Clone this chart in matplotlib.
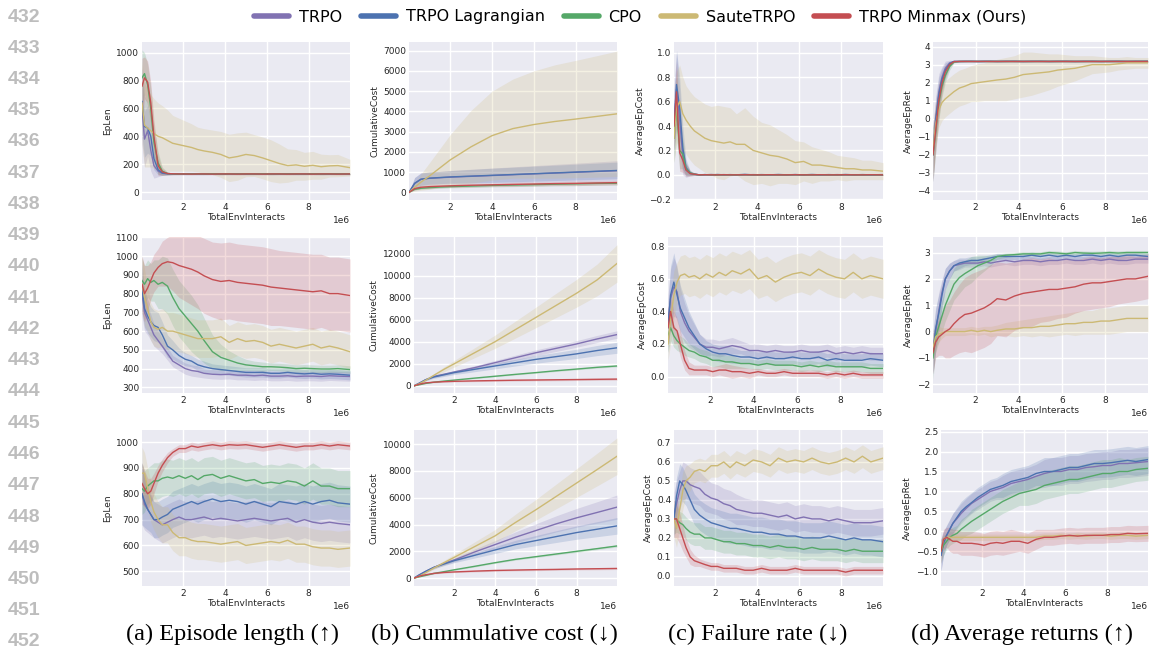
import matplotlib.pyplot as plt
from matplotlib.lines import Line2D
import numpy as np

names = ['TRPO', 'TRPO Lagrangian', 'CPO', 'SauteTRPO', 'TRPO Minmax (Ours)']
colors = ['#8172B2', '#4C72B0', '#55A868', '#CCB974', '#C44E52']

# x grids, in units of 1e6 env interactions
steps = [0.03, 0.15, 0.3, 0.45, 0.6, 0.8, 1.0, 1.25, 1.5, 1.8,
         2.1, 2.4, 2.7, 3.0, 3.4, 3.8, 4.2, 4.6, 5.0, 5.4,
         5.8, 6.2, 6.6, 7.0, 7.4, 7.8, 8.2, 8.6, 9.0, 9.4, 9.98]
steps_cum = [0.03, 0.3, 0.6, 1.0, 1.5, 2.0, 3.0, 4.0, 5.0, 6.0, 7.0, 8.0, 9.0, 9.98]

# ---------------- row 1 ----------------
ep1_trpo = [600, 380, 440, 300, 190, 150, 135, 131, 130, 130,
            129, 130, 129, 130, 130, 129, 130, 130, 129, 130,
            130, 129, 130, 130, 129, 130, 130, 129, 130, 130, 129]
ep1_trpo_sd = [250, 200, 180, 150, 90, 40, 15, 8, 6, 5,
               5, 5, 5, 5, 5, 5, 5, 5, 5, 5,
               5, 5, 5, 5, 5, 5, 5, 5, 5, 5, 5]
ep1_lag = [650, 470, 460, 400, 240, 160, 137, 132, 131, 130,
           130, 131, 130, 130, 131, 130, 130, 131, 130, 130,
           131, 130, 130, 131, 130, 130, 131, 130, 130, 131, 130]
ep1_lag_sd = [250, 220, 180, 140, 80, 35, 15, 8, 6, 5,
              5, 5, 5, 5, 5, 5, 5, 5, 5, 5,
              5, 5, 5, 5, 5, 5, 5, 5, 5, 5, 5]
ep1_cpo = [820, 850, 770, 600, 360, 210, 150, 133, 131, 130,
           131, 130, 131, 130, 131, 130, 131, 130, 131, 130,
           131, 130, 131, 130, 131, 130, 131, 130, 131, 130, 131]
ep1_cpo_sd = [200, 150, 150, 150, 120, 80, 30, 10, 6, 5,
              5, 5, 5, 5, 5, 5, 5, 5, 5, 5,
              5, 5, 5, 5, 5, 5, 5, 5, 5, 5, 5]
ep1_saute = [640, 480, 460, 440, 420, 400, 390, 370, 350, 340,
             330, 320, 305, 295, 285, 270, 245, 255, 270, 262,
             245, 225, 205, 190, 195, 185, 192, 182, 188, 190, 175]
ep1_saute_sd = [300, 300, 280, 260, 250, 240, 230, 220, 200, 190,
                180, 170, 160, 160, 160, 165, 170, 170, 160, 150,
                150, 150, 140, 120, 110, 100, 100, 90, 80, 80, 60]
ep1_min = [760, 820, 790, 640, 400, 190, 145, 133, 131, 130,
           130, 129, 130, 130, 129, 130, 130, 129, 130, 130,
           129, 130, 130, 129, 130, 130, 129, 130, 130, 129, 130]
ep1_min_sd = [200, 150, 150, 150, 120, 70, 25, 10, 6, 5,
              5, 5, 5, 5, 5, 5, 5, 5, 5, 5,
              5, 5, 5, 5, 5, 5, 5, 5, 5, 5, 5]

cc1_trpo = [0, 430, 640, 690, 720, 750, 790, 830, 870, 910, 950, 990, 1030, 1070]
cc1_trpo_sd = [0, 300, 320, 320, 320, 330, 350, 370, 390, 410, 430, 450, 470, 490]
cc1_lag = [0, 450, 650, 700, 730, 760, 800, 840, 880, 920, 960, 1000, 1040, 1080]
cc1_lag_sd = [0, 280, 300, 300, 300, 310, 330, 350, 360, 370, 380, 390, 400, 410]
cc1_cpo = [0, 150, 200, 230, 260, 280, 310, 340, 360, 380, 400, 420, 440, 450]
cc1_cpo_sd = [0, 40, 50, 60, 60, 60, 70, 70, 80, 80, 80, 90, 90, 90]
cc1_saute = [0, 250, 500, 800, 1200, 1600, 2250, 2800, 3150, 3350, 3500, 3620, 3750, 3880]
cc1_saute_sd = [0, 200, 400, 650, 950, 1250, 1800, 2200, 2450, 2650, 2800, 2900, 3000, 3100]
cc1_min = [0, 180, 250, 280, 300, 320, 350, 370, 390, 410, 430, 440, 460, 480]
cc1_min_sd = [0, 60, 70, 80, 80, 80, 90, 90, 100, 100, 100, 110, 110, 110]

ac1_trpo = [0.45, 0.70, 0.45, 0.15, 0.04, 0.01, 0.005, 0.0, 0.0, 0.003,
            0.0, 0.002, 0.0, 0.001, 0.0, 0.002, 0.0, 0.001, 0.0, 0.0,
            0.002, 0.0, 0.001, 0.0, 0.0, 0.002, 0.0, 0.001, 0.0, 0.0, 0.0]
ac1_trpo_sd = [0.25, 0.30, 0.25, 0.15, 0.06, 0.02, 0.01, 0.005, 0.005, 0.005,
               0.005, 0.005, 0.005, 0.005, 0.005, 0.005, 0.005, 0.005, 0.005, 0.005,
               0.005, 0.005, 0.005, 0.005, 0.005, 0.005, 0.005, 0.005, 0.005, 0.005, 0.005]
ac1_lag = [0.40, 0.74, 0.55, 0.22, 0.06, 0.015, 0.005, 0.0, 0.002, 0.0,
           0.003, 0.0, 0.002, 0.0, 0.004, 0.0, 0.002, 0.0, 0.003, 0.0,
           0.002, 0.0, 0.003, 0.0, 0.002, 0.0, 0.003, 0.0, 0.002, 0.0, 0.002]
ac1_lag_sd = [0.25, 0.28, 0.25, 0.18, 0.07, 0.02, 0.01, 0.005, 0.005, 0.005,
              0.005, 0.005, 0.005, 0.005, 0.005, 0.005, 0.005, 0.005, 0.005, 0.005,
              0.005, 0.005, 0.005, 0.005, 0.005, 0.005, 0.005, 0.005, 0.005, 0.005, 0.005]
ac1_cpo = [0.30, 0.55, 0.20, 0.17, 0.05, 0.015, 0.005, 0.0, 0.002, 0.0,
           0.0, 0.001, 0.0, 0.0, 0.001, 0.0, 0.0, 0.001, 0.0, 0.0,
           0.001, 0.0, 0.0, 0.001, 0.0, 0.0, 0.001, 0.0, 0.0, 0.001, 0.0]
ac1_cpo_sd = [0.20, 0.25, 0.15, 0.12, 0.05, 0.02, 0.01, 0.005, 0.005, 0.005,
              0.005, 0.005, 0.005, 0.005, 0.005, 0.005, 0.005, 0.005, 0.005, 0.005,
              0.005, 0.005, 0.005, 0.005, 0.005, 0.005, 0.005, 0.005, 0.005, 0.005, 0.005]
ac1_saute = [0.30, 0.55, 0.60, 0.50, 0.45, 0.40, 0.36, 0.33, 0.30, 0.28,
             0.27, 0.26, 0.27, 0.25, 0.25, 0.20, 0.18, 0.16, 0.15, 0.13,
             0.10, 0.11, 0.08, 0.08, 0.07, 0.06, 0.05, 0.05, 0.04, 0.04, 0.03]
ac1_saute_sd = [0.20, 0.30, 0.30, 0.30, 0.28, 0.28, 0.28, 0.28, 0.28, 0.28,
                0.30, 0.30, 0.28, 0.25, 0.30, 0.28, 0.25, 0.25, 0.22, 0.20,
                0.18, 0.16, 0.15, 0.13, 0.12, 0.10, 0.10, 0.09, 0.08, 0.08, 0.07]
ac1_min = [0.40, 0.68, 0.18, 0.12, 0.04, 0.01, 0.005, 0.0, 0.001, 0.0,
           0.0, 0.001, 0.0, 0.0, 0.001, 0.0, 0.0, 0.001, 0.0, 0.0,
           0.001, 0.0, 0.0, 0.001, 0.0, 0.0, 0.001, 0.0, 0.0, 0.001, 0.0]
ac1_min_sd = [0.20, 0.25, 0.15, 0.10, 0.05, 0.02, 0.01, 0.005, 0.005, 0.005,
              0.005, 0.005, 0.005, 0.005, 0.005, 0.005, 0.005, 0.005, 0.005, 0.005,
              0.005, 0.005, 0.005, 0.005, 0.005, 0.005, 0.005, 0.005, 0.005, 0.005, 0.005]

rt1_trpo = [-2.0, 0.0, 1.5, 2.3, 2.8, 3.1, 3.18, 3.18, 3.19, 3.18,
            3.18, 3.19, 3.18, 3.18, 3.19, 3.18, 3.18, 3.19, 3.18, 3.18,
            3.19, 3.18, 3.18, 3.19, 3.18, 3.18, 3.19, 3.18, 3.18, 3.19, 3.18]
rt1_trpo_sd = [1.5, 1.2, 1.0, 0.6, 0.4, 0.15, 0.05, 0.03, 0.03, 0.03,
               0.03, 0.03, 0.03, 0.03, 0.03, 0.03, 0.03, 0.03, 0.03, 0.03,
               0.03, 0.03, 0.03, 0.03, 0.03, 0.03, 0.03, 0.03, 0.03, 0.03, 0.03]
rt1_lag = [-2.0, -0.2, 1.3, 2.2, 2.7, 3.05, 3.18, 3.18, 3.18, 3.19,
           3.18, 3.18, 3.19, 3.18, 3.18, 3.19, 3.18, 3.18, 3.19, 3.18,
           3.18, 3.19, 3.18, 3.18, 3.19, 3.18, 3.18, 3.19, 3.18, 3.18, 3.19]
rt1_lag_sd = [1.5, 1.2, 1.0, 0.6, 0.4, 0.15, 0.05, 0.03, 0.03, 0.03,
              0.03, 0.03, 0.03, 0.03, 0.03, 0.03, 0.03, 0.03, 0.03, 0.03,
              0.03, 0.03, 0.03, 0.03, 0.03, 0.03, 0.03, 0.03, 0.03, 0.03, 0.03]
rt1_cpo = [-2.0, -0.8, 0.9, 1.8, 2.4, 2.9, 3.15, 3.18, 3.18, 3.18,
           3.18, 3.18, 3.18, 3.18, 3.18, 3.18, 3.18, 3.18, 3.18, 3.18,
           3.18, 3.18, 3.18, 3.18, 3.18, 3.18, 3.18, 3.18, 3.18, 3.18, 3.18]
rt1_cpo_sd = [1.5, 1.2, 1.0, 0.6, 0.4, 0.2, 0.05, 0.03, 0.03, 0.03,
              0.03, 0.03, 0.03, 0.03, 0.03, 0.03, 0.03, 0.03, 0.03, 0.03,
              0.03, 0.03, 0.03, 0.03, 0.03, 0.03, 0.03, 0.03, 0.03, 0.03, 0.03]
rt1_saute = [-1.8, -0.3, 0.5, 0.9, 1.1, 1.3, 1.5, 1.7, 1.8, 1.95,
             2.0, 2.05, 2.1, 2.15, 2.2, 2.3, 2.45, 2.5, 2.55, 2.6,
             2.7, 2.75, 2.8, 2.9, 3.0, 3.0, 3.0, 3.05, 3.1, 3.1, 3.1]
rt1_saute_sd = [1.5, 1.2, 1.0, 1.0, 1.0, 1.0, 1.0, 1.0, 1.0, 1.0,
                1.05, 1.05, 1.1, 1.15, 1.2, 1.2, 1.25, 1.2, 1.1, 1.0,
                0.9, 0.8, 0.7, 0.6, 0.5, 0.45, 0.4, 0.35, 0.35, 0.3, 0.3]
rt1_min = [-2.0, -0.7, 1.0, 2.0, 2.6, 3.0, 3.17, 3.18, 3.18, 3.18,
           3.18, 3.18, 3.18, 3.18, 3.18, 3.18, 3.18, 3.18, 3.18, 3.18,
           3.18, 3.18, 3.18, 3.18, 3.18, 3.18, 3.18, 3.18, 3.18, 3.18, 3.18]
rt1_min_sd = [1.5, 1.2, 1.0, 0.6, 0.4, 0.15, 0.05, 0.03, 0.03, 0.03,
              0.03, 0.03, 0.03, 0.03, 0.03, 0.03, 0.03, 0.03, 0.03, 0.03,
              0.03, 0.03, 0.03, 0.03, 0.03, 0.03, 0.03, 0.03, 0.03, 0.03, 0.03]

# ---------------- row 2 ----------------
ep2_trpo = [800, 700, 660, 620, 580, 550, 520, 480, 440, 420,
            400, 390, 385, 375, 370, 368, 370, 365, 365, 362,
            365, 360, 360, 362, 358, 360, 360, 358, 362, 360, 358]
ep2_trpo_sd = [120, 100, 80, 70, 60, 50, 40, 35, 30, 30,
               30, 30, 30, 25, 25, 25, 25, 25, 25, 25,
               25, 25, 25, 25, 25, 25, 25, 25, 25, 25, 25]
ep2_lag = [830, 720, 680, 650, 630, 620, 580, 520, 500, 470,
           450, 440, 420, 410, 400, 395, 390, 385, 380, 380,
           380, 375, 375, 380, 375, 372, 375, 370, 372, 370, 365]
ep2_lag_sd = [130, 100, 90, 80, 80, 80, 70, 60, 50, 40,
              35, 30, 30, 30, 25, 25, 25, 25, 25, 25,
              25, 25, 25, 25, 25, 25, 25, 25, 25, 25, 25]
ep2_cpo = [870, 850, 880, 860, 870, 850, 860, 840, 780, 720,
           680, 640, 600, 550, 490, 460, 445, 430, 420, 415,
           410, 410, 408, 405, 400, 402, 400, 398, 398, 400, 395]
ep2_cpo_sd = [120, 100, 100, 100, 110, 130, 140, 150, 150, 150,
              150, 150, 140, 120, 90, 70, 50, 40, 30, 25,
              25, 20, 20, 20, 20, 20, 20, 20, 20, 20, 20]
ep2_saute = [850, 780, 720, 650, 620, 610, 620, 600, 600, 590,
             580, 570, 560, 560, 560, 570, 540, 560, 545, 550,
             540, 520, 530, 520, 510, 520, 530, 510, 520, 510, 490]
ep2_saute_sd = [150, 150, 120, 100, 100, 100, 100, 100, 100, 100,
                100, 100, 100, 100, 100, 100, 90, 90, 90, 90,
                90, 90, 90, 90, 90, 90, 90, 90, 90, 90, 90]
ep2_min = [850, 800, 830, 870, 910, 940, 960, 970, 965, 950,
           940, 930, 915, 895, 875, 865, 870, 860, 855, 850,
           845, 835, 830, 825, 820, 815, 810, 815, 800, 800, 790]
ep2_min_sd = [150, 150, 120, 100, 100, 100, 120, 130, 150, 170,
              180, 190, 195, 200, 200, 205, 205, 205, 205, 205,
              205, 205, 200, 200, 200, 200, 200, 195, 195, 195, 195]

cc2_trpo = [0, 250, 550, 850, 1050, 1250, 1650, 2100, 2550, 3000, 3400, 3800, 4250, 4650]
cc2_trpo_sd = [0, 40, 70, 100, 120, 140, 170, 200, 230, 260, 280, 300, 320, 340]
cc2_lag = [0, 250, 550, 800, 1000, 1200, 1500, 1800, 2100, 2400, 2650, 2900, 3200, 3450]
cc2_lag_sd = [0, 50, 90, 120, 150, 180, 220, 260, 300, 350, 380, 420, 460, 500]
cc2_cpo = [0, 100, 220, 330, 430, 520, 700, 870, 1040, 1200, 1370, 1520, 1680, 1800]
cc2_cpo_sd = [0, 10, 20, 30, 35, 40, 45, 50, 55, 60, 65, 70, 75, 80]
cc2_saute = [0, 200, 500, 950, 1500, 2000, 3000, 4000, 5100, 6200, 7300, 8400, 9600, 11100]
cc2_saute_sd = [0, 30, 75, 140, 220, 300, 450, 600, 770, 930, 1100, 1260, 1440, 1700]
cc2_min = [0, 150, 270, 330, 380, 410, 450, 480, 510, 530, 550, 570, 590, 610]
cc2_min_sd = [0, 20, 40, 50, 60, 60, 70, 70, 80, 80, 90, 90, 100, 100]

ac2_trpo = [0.35, 0.48, 0.55, 0.52, 0.40, 0.33, 0.28, 0.24, 0.20, 0.18,
            0.18, 0.17, 0.18, 0.19, 0.18, 0.16, 0.16, 0.15, 0.16, 0.15,
            0.15, 0.16, 0.15, 0.15, 0.16, 0.14, 0.15, 0.14, 0.15, 0.14, 0.14]
ac2_trpo_sd = [0.15, 0.18, 0.18, 0.16, 0.14, 0.12, 0.10, 0.08, 0.06, 0.05,
               0.05, 0.05, 0.05, 0.05, 0.04, 0.04, 0.04, 0.04, 0.04, 0.04,
               0.04, 0.04, 0.04, 0.04, 0.04, 0.04, 0.04, 0.04, 0.04, 0.04, 0.04]
ac2_lag = [0.30, 0.50, 0.58, 0.50, 0.42, 0.36, 0.30, 0.25, 0.20, 0.17,
           0.15, 0.14, 0.14, 0.13, 0.12, 0.12, 0.11, 0.12, 0.11, 0.11,
           0.12, 0.11, 0.11, 0.12, 0.10, 0.11, 0.10, 0.10, 0.10, 0.11, 0.10]
ac2_lag_sd = [0.15, 0.18, 0.18, 0.16, 0.14, 0.12, 0.10, 0.08, 0.06, 0.05,
              0.05, 0.05, 0.05, 0.05, 0.04, 0.04, 0.04, 0.04, 0.04, 0.04,
              0.04, 0.04, 0.04, 0.04, 0.04, 0.04, 0.04, 0.04, 0.04, 0.04, 0.04]
ac2_cpo = [0.25, 0.30, 0.25, 0.22, 0.20, 0.18, 0.16, 0.15, 0.13, 0.12,
           0.10, 0.10, 0.09, 0.09, 0.08, 0.08, 0.07, 0.08, 0.07, 0.07,
           0.07, 0.06, 0.07, 0.06, 0.07, 0.06, 0.06, 0.06, 0.06, 0.05, 0.05]
ac2_cpo_sd = [0.10, 0.08, 0.07, 0.06, 0.05, 0.05, 0.04, 0.04, 0.04, 0.04,
              0.04, 0.04, 0.04, 0.04, 0.03, 0.03, 0.03, 0.03, 0.03, 0.03,
              0.03, 0.03, 0.03, 0.03, 0.03, 0.03, 0.03, 0.03, 0.03, 0.03, 0.03]
ac2_saute = [0.20, 0.35, 0.50, 0.58, 0.62, 0.63, 0.61, 0.62, 0.60, 0.63,
             0.61, 0.64, 0.62, 0.65, 0.63, 0.66, 0.60, 0.62, 0.58, 0.61,
             0.63, 0.64, 0.62, 0.66, 0.63, 0.61, 0.60, 0.64, 0.60, 0.62, 0.60]
ac2_saute_sd = [0.10, 0.15, 0.15, 0.12, 0.12, 0.12, 0.12, 0.12, 0.12, 0.12,
                0.12, 0.12, 0.12, 0.12, 0.12, 0.12, 0.12, 0.12, 0.12, 0.12,
                0.12, 0.12, 0.12, 0.12, 0.12, 0.12, 0.12, 0.12, 0.12, 0.12, 0.12]
ac2_min = [0.30, 0.40, 0.30, 0.28, 0.20, 0.10, 0.05, 0.04, 0.04, 0.04,
           0.03, 0.04, 0.04, 0.03, 0.03, 0.02, 0.03, 0.02, 0.02, 0.03,
           0.02, 0.02, 0.02, 0.02, 0.01, 0.02, 0.01, 0.02, 0.01, 0.01, 0.01]
ac2_min_sd = [0.12, 0.10, 0.10, 0.08, 0.08, 0.06, 0.04, 0.03, 0.03, 0.03,
              0.03, 0.03, 0.04, 0.04, 0.03, 0.03, 0.02, 0.02, 0.02, 0.02,
              0.02, 0.02, 0.02, 0.02, 0.02, 0.02, 0.02, 0.02, 0.02, 0.02, 0.02]

rt2_trpo = [-0.8, 0.0, 0.8, 1.5, 2.0, 2.3, 2.5, 2.55, 2.6, 2.6,
            2.6, 2.65, 2.6, 2.65, 2.7, 2.65, 2.7, 2.7, 2.65, 2.7,
            2.7, 2.75, 2.7, 2.7, 2.75, 2.7, 2.75, 2.7, 2.7, 2.75, 2.75]
rt2_trpo_sd = [0.8, 0.8, 0.7, 0.5, 0.4, 0.3, 0.2, 0.2, 0.15, 0.15,
               0.15, 0.15, 0.15, 0.15, 0.15, 0.15, 0.15, 0.15, 0.15, 0.15,
               0.15, 0.15, 0.15, 0.15, 0.15, 0.15, 0.15, 0.15, 0.15, 0.15, 0.15]
rt2_lag = [-0.8, 0.1, 0.7, 1.4, 2.0, 2.3, 2.5, 2.6, 2.65, 2.7,
           2.7, 2.75, 2.8, 2.85, 2.85, 2.85, 2.85, 2.9, 2.85, 2.9,
           2.85, 2.9, 2.85, 2.9, 2.9, 2.85, 2.9, 2.85, 2.9, 2.9, 2.85]
rt2_lag_sd = [0.8, 0.8, 0.7, 0.5, 0.4, 0.3, 0.2, 0.2, 0.15, 0.15,
              0.15, 0.12, 0.12, 0.12, 0.12, 0.12, 0.12, 0.12, 0.12, 0.12,
              0.12, 0.12, 0.12, 0.12, 0.12, 0.12, 0.12, 0.12, 0.12, 0.12, 0.12]
rt2_cpo = [-1.0, -0.2, 0.2, 0.6, 1.0, 1.4, 1.8, 2.05, 2.2, 2.35,
           2.5, 2.6, 2.7, 2.85, 2.9, 2.92, 2.95, 2.95, 2.95, 3.0,
           2.98, 2.95, 3.0, 2.98, 2.97, 2.98, 3.0, 2.98, 3.0, 3.0, 3.0]
rt2_cpo_sd = [0.8, 0.6, 0.6, 0.6, 0.6, 0.6, 0.6, 0.6, 0.5, 0.5,
              0.4, 0.3, 0.2, 0.1, 0.08, 0.08, 0.08, 0.08, 0.08, 0.08,
              0.08, 0.08, 0.08, 0.08, 0.08, 0.08, 0.08, 0.08, 0.08, 0.08, 0.08]
rt2_saute = [-0.6, -0.2, -0.1, -0.05, 0.0, 0.0, 0.0, 0.0, 0.0, 0.05,
             0.0, 0.05, 0.0, 0.05, 0.1, 0.1, 0.15, 0.15, 0.2, 0.2,
             0.25, 0.3, 0.3, 0.35, 0.35, 0.4, 0.4, 0.45, 0.5, 0.5, 0.5]
rt2_saute_sd = [0.5, 0.4, 0.3, 0.2, 0.15, 0.15, 0.15, 0.15, 0.15, 0.15,
                0.15, 0.15, 0.2, 0.2, 0.25, 0.3, 0.3, 0.35, 0.35, 0.4,
                0.4, 0.4, 0.45, 0.45, 0.45, 0.5, 0.5, 0.5, 0.5, 0.5, 0.5]
rt2_min = [-0.8, -0.4, -0.2, -0.1, 0.0, 0.1, 0.3, 0.5, 0.65, 0.7,
           0.8, 0.9, 1.05, 1.25, 1.2, 1.35, 1.45, 1.5, 1.55, 1.6,
           1.6, 1.65, 1.7, 1.8, 1.85, 1.85, 1.9, 1.95, 2.0, 2.0, 2.1]
rt2_min_sd = [0.8, 0.6, 0.7, 0.8, 1.0, 1.1, 1.2, 1.3, 1.4, 1.5,
              1.5, 1.5, 1.5, 1.4, 1.4, 1.3, 1.3, 1.3, 1.2, 1.2,
              1.1, 1.1, 1.0, 1.0, 1.0, 0.95, 0.95, 0.9, 0.9, 0.85, 0.85]

# ---------------- row 3 ----------------
ep3_trpo = [800, 760, 740, 720, 700, 690, 680, 690, 700, 710,
            700, 700, 705, 710, 700, 705, 700, 695, 700, 705,
            700, 695, 700, 705, 690, 700, 690, 685, 690, 685, 680]
ep3_trpo_sd = [120, 100, 90, 80, 70, 70, 70, 70, 70, 70,
               70, 70, 70, 70, 70, 70, 70, 70, 70, 70,
               70, 70, 70, 70, 70, 70, 70, 70, 70, 70, 70]
ep3_lag = [800, 770, 740, 720, 700, 700, 710, 720, 740, 750,
           760, 770, 760, 770, 780, 770, 775, 770, 760, 770,
           760, 750, 770, 765, 760, 770, 760, 770, 775, 765, 760]
ep3_lag_sd = [120, 100, 80, 70, 70, 70, 70, 70, 70, 70,
              70, 70, 70, 70, 70, 70, 70, 70, 70, 70,
              70, 70, 70, 70, 70, 70, 70, 70, 70, 70, 70]
ep3_cpo = [820, 810, 830, 840, 850, 850, 860, 865, 860, 870,
           860, 870, 855, 870, 875, 860, 870, 860, 850, 855,
           840, 845, 840, 850, 845, 830, 850, 830, 830, 820, 820]
ep3_cpo_sd = [100, 80, 70, 70, 70, 70, 70, 70, 70, 70,
              70, 70, 70, 70, 70, 70, 70, 70, 70, 70,
              70, 70, 70, 70, 70, 70, 70, 70, 70, 70, 70]
ep3_saute = [880, 880, 820, 770, 730, 700, 680, 680, 650, 630,
             630, 620, 615, 615, 610, 605, 610, 615, 600, 605,
             610, 615, 610, 620, 605, 605, 595, 590, 590, 585, 590]
ep3_saute_sd = [100, 80, 80, 80, 70, 70, 70, 70, 70, 70,
                70, 70, 70, 70, 70, 70, 70, 70, 70, 70,
                70, 70, 70, 70, 70, 70, 70, 70, 70, 70, 70]
ep3_min = [840, 820, 800, 810, 840, 880, 910, 940, 960, 975,
           975, 985, 980, 985, 990, 985, 990, 988, 990, 985,
           980, 985, 990, 985, 980, 985, 985, 990, 985, 990, 985]
ep3_min_sd = [80, 70, 60, 50, 40, 30, 25, 20, 15, 15,
              15, 15, 15, 15, 15, 15, 15, 15, 15, 15,
              15, 15, 15, 15, 15, 15, 15, 15, 15, 15, 15]

cc3_trpo = [0, 250, 500, 800, 1100, 1350, 1950, 2500, 3050, 3550, 4050, 4500, 4900, 5300]
cc3_trpo_sd = [0, 30, 60, 90, 120, 150, 220, 300, 400, 500, 600, 700, 800, 900]
cc3_lag = [0, 250, 500, 800, 1050, 1300, 1700, 2100, 2500, 2800, 3100, 3400, 3650, 3900]
cc3_lag_sd = [0, 30, 60, 90, 120, 150, 200, 260, 320, 380, 440, 500, 560, 620]
cc3_cpo = [0, 100, 200, 350, 480, 620, 880, 1150, 1400, 1600, 1800, 2000, 2200, 2400]
cc3_cpo_sd = [0, 10, 20, 30, 35, 40, 50, 55, 60, 65, 70, 75, 80, 80]
cc3_saute = [0, 150, 400, 750, 1150, 1550, 2350, 3150, 4150, 5100, 6100, 7100, 8100, 9100]
cc3_saute_sd = [0, 20, 60, 110, 170, 230, 350, 470, 620, 770, 920, 1070, 1220, 1370]
cc3_min = [0, 150, 250, 350, 420, 460, 520, 570, 600, 630, 650, 680, 700, 720]
cc3_min_sd = [0, 20, 30, 40, 50, 50, 60, 60, 60, 70, 70, 70, 80, 80]

ac3_trpo = [0.32, 0.38, 0.45, 0.50, 0.50, 0.48, 0.47, 0.46, 0.43, 0.41,
            0.40, 0.38, 0.37, 0.35, 0.34, 0.33, 0.33, 0.32, 0.31, 0.32,
            0.30, 0.31, 0.30, 0.30, 0.29, 0.30, 0.29, 0.28, 0.28, 0.28, 0.29]
ac3_trpo_sd = [0.12, 0.12, 0.10, 0.10, 0.09, 0.09, 0.09, 0.09, 0.09, 0.08,
               0.08, 0.08, 0.08, 0.08, 0.07, 0.07, 0.07, 0.07, 0.07, 0.07,
               0.07, 0.07, 0.07, 0.07, 0.07, 0.07, 0.07, 0.07, 0.07, 0.07, 0.07]
ac3_lag = [0.30, 0.42, 0.50, 0.48, 0.45, 0.40, 0.35, 0.32, 0.30, 0.28,
           0.27, 0.26, 0.25, 0.25, 0.24, 0.23, 0.23, 0.22, 0.22, 0.21,
           0.21, 0.20, 0.20, 0.20, 0.21, 0.20, 0.19, 0.20, 0.19, 0.19, 0.18]
ac3_lag_sd = [0.10, 0.10, 0.09, 0.09, 0.08, 0.08, 0.08, 0.08, 0.08, 0.08,
              0.08, 0.08, 0.08, 0.08, 0.08, 0.08, 0.08, 0.08, 0.08, 0.08,
              0.08, 0.08, 0.08, 0.08, 0.08, 0.08, 0.08, 0.08, 0.08, 0.08, 0.08]
ac3_cpo = [0.30, 0.30, 0.28, 0.27, 0.25, 0.23, 0.22, 0.22, 0.20, 0.20,
           0.19, 0.18, 0.18, 0.17, 0.17, 0.16, 0.16, 0.15, 0.16, 0.15,
           0.15, 0.14, 0.15, 0.14, 0.14, 0.14, 0.13, 0.14, 0.13, 0.13, 0.13]
ac3_cpo_sd = [0.08, 0.07, 0.06, 0.06, 0.06, 0.06, 0.06, 0.06, 0.06, 0.06,
              0.06, 0.06, 0.06, 0.06, 0.06, 0.06, 0.06, 0.06, 0.06, 0.06,
              0.06, 0.06, 0.06, 0.06, 0.06, 0.06, 0.06, 0.06, 0.06, 0.06, 0.06]
ac3_saute = [0.30, 0.25, 0.35, 0.45, 0.50, 0.52, 0.55, 0.56, 0.55, 0.58,
             0.58, 0.60, 0.57, 0.60, 0.58, 0.61, 0.60, 0.58, 0.62, 0.60,
             0.61, 0.60, 0.62, 0.60, 0.59, 0.60, 0.62, 0.60, 0.63, 0.60, 0.62]
ac3_saute_sd = [0.10, 0.10, 0.10, 0.10, 0.08, 0.07, 0.06, 0.06, 0.06, 0.06,
                0.06, 0.06, 0.06, 0.06, 0.06, 0.06, 0.06, 0.06, 0.06, 0.06,
                0.06, 0.06, 0.06, 0.06, 0.06, 0.06, 0.06, 0.06, 0.06, 0.06, 0.06]
ac3_min = [0.30, 0.30, 0.25, 0.20, 0.15, 0.10, 0.08, 0.07, 0.06, 0.05,
           0.05, 0.04, 0.04, 0.04, 0.03, 0.03, 0.04, 0.03, 0.03, 0.03,
           0.04, 0.03, 0.03, 0.03, 0.03, 0.03, 0.02, 0.03, 0.03, 0.03, 0.03]
ac3_min_sd = [0.10, 0.10, 0.08, 0.07, 0.05, 0.04, 0.03, 0.02, 0.02, 0.02,
              0.02, 0.02, 0.02, 0.02, 0.02, 0.02, 0.02, 0.02, 0.02, 0.02,
              0.02, 0.02, 0.02, 0.02, 0.02, 0.02, 0.02, 0.02, 0.02, 0.02, 0.02]

rt3_trpo = [-0.6, -0.3, -0.1, 0.05, 0.2, 0.32, 0.45, 0.58, 0.70, 0.80,
            0.90, 1.0, 1.05, 1.1, 1.2, 1.25, 1.3, 1.38, 1.45, 1.5,
            1.5, 1.55, 1.55, 1.6, 1.62, 1.65, 1.65, 1.7, 1.7, 1.72, 1.75]
rt3_trpo_sd = [0.4, 0.3, 0.25, 0.25, 0.25, 0.25, 0.25, 0.25, 0.25, 0.25,
               0.25, 0.25, 0.25, 0.3, 0.3, 0.3, 0.3, 0.3, 0.35, 0.35,
               0.35, 0.35, 0.35, 0.35, 0.35, 0.35, 0.35, 0.35, 0.35, 0.35, 0.35]
rt3_lag = [-0.6, -0.3, -0.1, 0.05, 0.2, 0.35, 0.5, 0.62, 0.72, 0.85,
           0.95, 1.05, 1.1, 1.15, 1.25, 1.3, 1.35, 1.45, 1.5, 1.5,
           1.55, 1.6, 1.6, 1.65, 1.7, 1.7, 1.72, 1.75, 1.78, 1.75, 1.8]
rt3_lag_sd = [0.4, 0.3, 0.25, 0.25, 0.25, 0.25, 0.25, 0.25, 0.25, 0.25,
              0.25, 0.25, 0.25, 0.3, 0.3, 0.3, 0.3, 0.3, 0.35, 0.35,
              0.35, 0.35, 0.35, 0.35, 0.35, 0.35, 0.35, 0.35, 0.35, 0.35, 0.35]
rt3_cpo = [-0.5, -0.35, -0.25, -0.15, -0.1, -0.05, 0.05, 0.15, 0.25, 0.35,
           0.45, 0.55, 0.65, 0.75, 0.85, 0.95, 1.0, 1.05, 1.15, 1.2,
           1.25, 1.3, 1.3, 1.35, 1.4, 1.45, 1.45, 1.5, 1.5, 1.55, 1.58]
rt3_cpo_sd = [0.3, 0.25, 0.2, 0.2, 0.2, 0.2, 0.25, 0.25, 0.3, 0.3,
              0.3, 0.3, 0.3, 0.3, 0.3, 0.3, 0.35, 0.35, 0.35, 0.35,
              0.35, 0.35, 0.35, 0.35, 0.35, 0.35, 0.35, 0.35, 0.3, 0.3, 0.3]
rt3_saute = [-0.5, -0.2, -0.15, -0.15, -0.15, -0.15, -0.15, -0.15, -0.15, -0.15,
             -0.15, -0.15, -0.15, -0.15, -0.15, -0.15, -0.15, -0.15, -0.12, -0.12,
             -0.1, -0.12, -0.1, -0.12, -0.1, -0.1, -0.12, -0.1, -0.1, -0.12, -0.1]
rt3_saute_sd = [0.15, 0.1, 0.08, 0.08, 0.08, 0.08, 0.08, 0.08, 0.08, 0.08,
                0.08, 0.08, 0.08, 0.08, 0.08, 0.08, 0.08, 0.08, 0.08, 0.08,
                0.08, 0.08, 0.08, 0.08, 0.08, 0.08, 0.08, 0.08, 0.08, 0.08, 0.08]
rt3_min = [-0.5, -0.2, -0.15, -0.2, -0.25, -0.25, -0.3, -0.3, -0.3, -0.32,
           -0.35, -0.3, -0.28, -0.3, -0.25, -0.25, -0.3, -0.2, -0.15, -0.15,
           -0.12, -0.1, -0.12, -0.1, -0.1, -0.1, -0.08, -0.08, -0.05, -0.06, -0.05]
rt3_min_sd = [0.3, 0.25, 0.25, 0.3, 0.3, 0.3, 0.3, 0.3, 0.3, 0.3,
              0.3, 0.3, 0.3, 0.3, 0.3, 0.25, 0.25, 0.25, 0.2, 0.2,
              0.2, 0.2, 0.2, 0.2, 0.2, 0.2, 0.2, 0.2, 0.2, 0.2, 0.2]

captions = ['(a) Episode length (\u2191)', '(b) Cummulative cost (\u2193)',
            '(c) Failure rate (\u2193)', '(d) Average returns (\u2191)']

# ---------------- figure ----------------
W, H = 1150, 653
fig = plt.figure(figsize=(W / 100, H / 100), dpi=100)

def px_axes(left, right, top, bottom):
    return fig.add_axes([left / W, 1 - bottom / H, (right - left) / W, (bottom - top) / H])

def panel(ax, x, series, ylabel, ylim, yticks):
    ax.set_facecolor('#EAEAF2')
    for sp in ax.spines.values():
        sp.set_visible(False)
    xs = np.array(x) * 1e6
    for (m, s), c in zip(series, colors):
        n = min(len(xs), len(m), len(s))
        m = np.array(m[:n], dtype=float)
        s = np.array(s[:n], dtype=float)
        ax.fill_between(xs[:n], m - s, m + s, color=c, alpha=0.2, lw=0)
        ax.plot(xs[:n], m, color=c, lw=1.0)
    ax.set_xlim(xs[0], xs[-1])
    ax.set_ylim(*ylim)
    ax.set_xticks([2e6, 4e6, 6e6, 8e6])
    ax.set_yticks(yticks)
    ax.grid(True, color='white', lw=1.0)
    ax.set_axisbelow(True)
    ax.tick_params(length=0, labelsize=6.5, colors='#262626', pad=2)
    ax.xaxis.get_offset_text().set_fontsize(6.5)
    ax.xaxis.get_offset_text().set_color('#262626')
    ax.set_xlabel('TotalEnvInteracts', fontsize=6.5, color='#262626', labelpad=1)
    ax.set_ylabel(ylabel, fontsize=6.5, color='#262626', labelpad=3)

rows = [(42, 200), (237, 393), (430, 586)]
cols = [
    [(142, 350), (409, 617), (674, 883), (933, 1148)],
    [(142, 350), (414, 617), (668, 883), (933, 1148)],
    [(142, 350), (414, 617), (674, 883), (941, 1148)],
]

panels = [
    [(steps, [(ep1_trpo, ep1_trpo_sd), (ep1_lag, ep1_lag_sd), (ep1_cpo, ep1_cpo_sd), (ep1_saute, ep1_saute_sd), (ep1_min, ep1_min_sd)],
      'EpLen', (-57, 1077), [0, 200, 400, 600, 800, 1000]),
     (steps_cum, [(cc1_trpo, cc1_trpo_sd), (cc1_lag, cc1_lag_sd), (cc1_cpo, cc1_cpo_sd), (cc1_saute, cc1_saute_sd), (cc1_min, cc1_min_sd)],
      'CumulativeCost', (-380, 7430), [0, 1000, 2000, 3000, 4000, 5000, 6000, 7000]),
     (steps, [(ac1_trpo, ac1_trpo_sd), (ac1_lag, ac1_lag_sd), (ac1_cpo, ac1_cpo_sd), (ac1_saute, ac1_saute_sd), (ac1_min, ac1_min_sd)],
      'AverageEpCost', (-0.206, 1.088), [-0.2, 0.0, 0.2, 0.4, 0.6, 0.8, 1.0]),
     (steps, [(rt1_trpo, rt1_trpo_sd), (rt1_lag, rt1_lag_sd), (rt1_cpo, rt1_cpo_sd), (rt1_saute, rt1_saute_sd), (rt1_min, rt1_min_sd)],
      'AverageEpRet', (-4.52, 4.26), [-4, -3, -2, -1, 0, 1, 2, 3, 4])],
    [(steps, [(ep2_trpo, ep2_trpo_sd), (ep2_lag, ep2_lag_sd), (ep2_cpo, ep2_cpo_sd), (ep2_saute, ep2_saute_sd), (ep2_min, ep2_min_sd)],
      'EpLen', (270, 1102), [300, 400, 500, 600, 700, 800, 900, 1000, 1100]),
     (steps_cum, [(cc2_trpo, cc2_trpo_sd), (cc2_lag, cc2_lag_sd), (cc2_cpo, cc2_cpo_sd), (cc2_saute, cc2_saute_sd), (cc2_min, cc2_min_sd)],
      'CumulativeCost', (-650, 13500), [0, 2000, 4000, 6000, 8000, 10000, 12000]),
     (steps, [(ac2_trpo, ac2_trpo_sd), (ac2_lag, ac2_lag_sd), (ac2_cpo, ac2_cpo_sd), (ac2_saute, ac2_saute_sd), (ac2_min, ac2_min_sd)],
      'AverageEpCost', (-0.101, 0.857), [0.0, 0.2, 0.4, 0.6, 0.8]),
     (steps, [(rt2_trpo, rt2_trpo_sd), (rt2_lag, rt2_lag_sd), (rt2_cpo, rt2_cpo_sd), (rt2_saute, rt2_saute_sd), (rt2_min, rt2_min_sd)],
      'AverageEpRet', (-2.33, 3.59), [-2, -1, 0, 1, 2, 3])],
    [(steps, [(ep3_trpo, ep3_trpo_sd), (ep3_lag, ep3_lag_sd), (ep3_cpo, ep3_cpo_sd), (ep3_saute, ep3_saute_sd), (ep3_min, ep3_min_sd)],
      'EpLen', (443, 1047), [500, 600, 700, 800, 900, 1000]),
     (steps_cum, [(cc3_trpo, cc3_trpo_sd), (cc3_lag, cc3_lag_sd), (cc3_cpo, cc3_cpo_sd), (cc3_saute, cc3_saute_sd), (cc3_min, cc3_min_sd)],
      'CumulativeCost', (-590, 11060), [0, 2000, 4000, 6000, 8000, 10000]),
     (steps, [(ac3_trpo, ac3_trpo_sd), (ac3_lag, ac3_lag_sd), (ac3_cpo, ac3_cpo_sd), (ac3_saute, ac3_saute_sd), (ac3_min, ac3_min_sd)],
      'AverageEpCost', (-0.053, 0.768), [0.0, 0.1, 0.2, 0.3, 0.4, 0.5, 0.6, 0.7]),
     (steps, [(rt3_trpo, rt3_trpo_sd), (rt3_lag, rt3_lag_sd), (rt3_cpo, rt3_cpo_sd), (rt3_saute, rt3_saute_sd), (rt3_min, rt3_min_sd)],
      'AverageEpRet', (-1.37, 2.54), [-1.0, -0.5, 0.0, 0.5, 1.0, 1.5, 2.0, 2.5])],
]

for r in range(3):
    top, bottom = rows[r]
    for c in range(4):
        left, right = cols[r][c]
        ax = px_axes(left, right, top, bottom)
        x, series, ylabel, ylim, yticks = panels[r][c]
        panel(ax, x, series, ylabel, ylim, yticks)

# legend on top
handles = [Line2D([], [], color=c, lw=4, solid_capstyle='round') for c in colors]
fig.legend(handles, names, loc='center', bbox_to_anchor=(640 / W, 1 - 17 / H), ncol=5,
           frameon=False, fontsize=11.5, handlelength=2.2, handletextpad=0.6, columnspacing=1.2)

# line numbers of the paper page
for i in range(21):
    fig.text(24 / W, 1 - (17 + i * 31.25) / H, str(432 + i), ha='center', va='center',
             fontsize=14, fontweight='bold', color='#bdbdbd', family=['Liberation Sans', 'DejaVu Sans'])

# sub-captions
for cx, cap in zip([232, 494, 758, 1022], captions):
    fig.text(cx / W, 1 - 634 / H, cap, ha='center', va='center', fontsize=17.5,
             family=['Liberation Serif', 'DejaVu Serif'])

fig.savefig('out.png', dpi=100)
